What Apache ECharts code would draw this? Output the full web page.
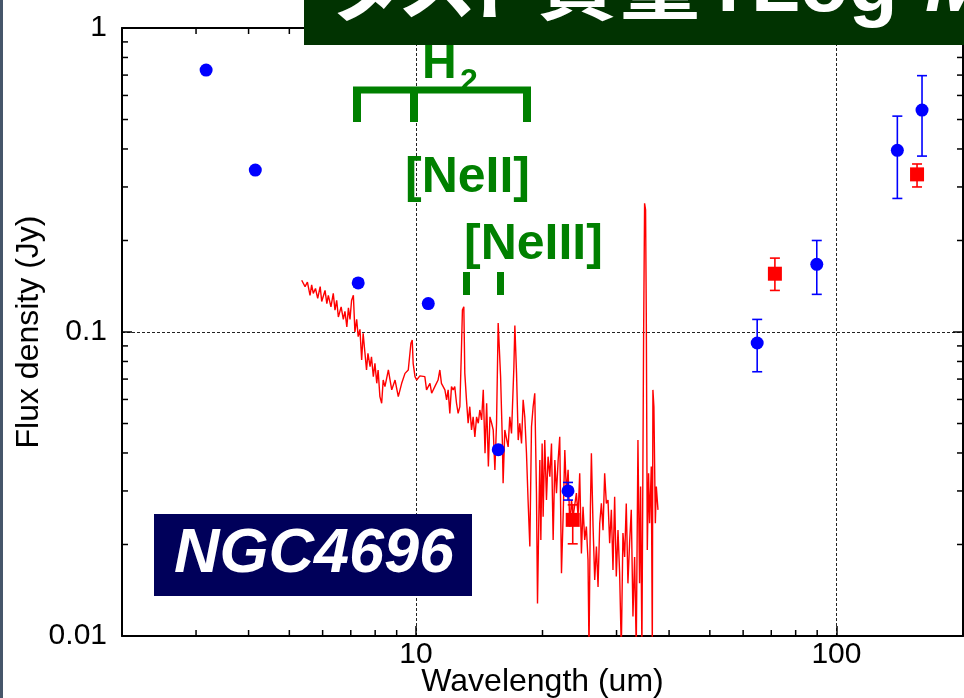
<!DOCTYPE html>
<html>
<head>
<meta charset="utf-8">
<script src="https://cdn.jsdelivr.net/npm/echarts@6/dist/echarts.min.js"></script>
<style>
  html, body { margin: 0; padding: 0; background: #ffffff; }
  #chart { width: 964px; height: 698px; }
</style>
</head>
<body>
<div id="chart"></div>
<script>
// Spitzer/IRS spectrum of NGC4696 (wavelength in um, flux density in Jy)
const specWave = [
  5.35, 5.45, 5.52, 5.60, 5.65, 5.70, 5.77, 5.84, 5.92, 5.97,
  6.08, 6.14, 6.19, 6.28, 6.36, 6.42, 6.48, 6.54, 6.64, 6.72,
  6.78, 6.85, 6.91, 6.97, 7.03, 7.10, 7.16, 7.23, 7.29, 7.36,
  7.43, 7.49, 7.56, 7.63, 7.69, 7.78, 7.84, 7.92, 7.99, 8.07,
  8.13, 8.21, 8.29, 8.36, 8.44, 8.60, 8.68, 8.76, 8.92, 9.08,
  9.25, 9.42, 9.59, 9.73, 9.80, 9.85, 9.95, 10.04, 10.22, 10.32,
  10.50, 10.60, 10.80, 10.90, 11.09, 11.29, 11.40, 11.50, 11.72, 11.83,
  11.93, 12.04, 12.15, 12.26, 12.37, 12.49, 12.60, 12.72, 12.83, 12.90,
  13.00, 13.07, 13.19, 13.31, 13.43, 13.56, 13.68, 13.81, 13.94, 14.07,
  14.19, 14.33, 14.46, 14.60, 14.73, 14.87, 15.00, 15.14, 15.27, 15.41,
  15.55, 15.69, 15.78, 15.90, 16.05, 16.12, 16.27, 16.57, 16.72, 16.88,
  17.10, 17.19, 17.35, 17.51, 17.66, 17.83, 17.99, 18.15, 18.32, 18.48,
  18.66, 18.83, 19.00, 19.17, 19.35, 19.46, 19.60, 19.71, 19.82, 19.96,
  20.07, 20.25, 20.44, 20.62, 20.82, 21.01, 21.20, 21.40, 21.59, 21.79,
  21.98, 22.19, 22.39, 22.60, 22.80, 23.01, 23.23, 23.44, 23.65, 24.08,
  24.30, 24.52, 24.75, 24.97, 25.20, 25.43, 25.66, 25.80, 26.00, 26.14,
  26.38, 26.62, 26.87, 27.11, 27.36, 27.61, 27.86, 28.11, 28.37, 28.63,
  28.89, 29.16, 29.42, 29.69, 29.96, 30.24, 30.51, 30.79, 31.07, 31.36,
  31.64, 31.93, 32.22, 32.52, 32.82, 33.12, 33.42, 33.73, 34.03, 34.22,
  34.47, 34.79, 34.98, 35.17, 35.31, 35.50, 35.75, 35.95, 36.29, 36.49,
  36.61, 36.81, 37.10, 37.30, 37.64
];
const specFlux = [
  0.148, 0.141, 0.146, 0.132, 0.143, 0.134, 0.139, 0.129, 0.141, 0.126,
  0.137, 0.124, 0.132, 0.121, 0.134, 0.118, 0.127, 0.112, 0.121, 0.110,
  0.117, 0.104, 0.120, 0.110, 0.127, 0.132, 0.100, 0.110, 0.0965, 0.102,
  0.0809, 0.099, 0.0861, 0.0750, 0.0851, 0.0769, 0.0829, 0.0713, 0.0789, 0.0678,
  0.0750, 0.0613, 0.0583, 0.0695, 0.0661, 0.0750, 0.0695, 0.0645, 0.0695, 0.0613,
  0.0678, 0.0731, 0.0750, 0.0918, 0.0941, 0.0789, 0.0713, 0.0695, 0.0717, 0.0722,
  0.0713, 0.0645, 0.0678, 0.0629, 0.0661, 0.0695, 0.0750, 0.0678, 0.0645, 0.0598,
  0.0645, 0.0540, 0.0661, 0.0645, 0.0661, 0.0583, 0.0540, 0.0568, 0.0873, 0.118,
  0.121, 0.0731, 0.0598, 0.0501, 0.0568, 0.0476, 0.0526, 0.0452, 0.0526, 0.0501,
  0.0554, 0.0514, 0.0645, 0.0399, 0.0583, 0.0361, 0.0526, 0.0501, 0.0476, 0.0352,
  0.0501, 0.107, 0.108, 0.0713, 0.0441, 0.0318, 0.0476, 0.0419, 0.0526, 0.0464,
  0.0769, 0.105, 0.0731, 0.0441, 0.0501, 0.0430, 0.0598, 0.0526, 0.0399, 0.0280,
  0.0197, 0.0488, 0.0568, 0.0629, 0.0295, 0.0128, 0.0241, 0.0379, 0.0207, 0.0430,
  0.0247, 0.0441, 0.0280, 0.0389, 0.0334, 0.0430, 0.0207, 0.0379, 0.0295, 0.0379,
  0.0452, 0.0161, 0.0247, 0.0409, 0.0295, 0.0352, 0.0229, 0.0280, 0.0247, 0.0295,
  0.0247, 0.0343, 0.0187, 0.0266, 0.0207, 0.0229, 0.0178, 0.009, 0.0266, 0.0399,
  0.0229, 0.0153, 0.0197, 0.0145, 0.0235, 0.0273, 0.0223, 0.0343, 0.0273, 0.0280,
  0.0202, 0.0260, 0.0165, 0.0287, 0.0157, 0.0223, 0.0161, 0.009, 0.0218, 0.0182,
  0.0273, 0.0149, 0.0202, 0.0260, 0.0116, 0.0182, 0.009, 0.0441, 0.0149, 0.0310,
  0.009, 0.0965, 0.265, 0.252, 0.112, 0.0192, 0.0343, 0.0235, 0.0361, 0.009,
  0.0645, 0.0568, 0.0235, 0.0310, 0.0260
];

// Broad-band photometry (blue circles) with error ranges
const photWave = [3.17, 4.15, 7.29, 10.7, 15.7, 23.0, 64.8, 89.8, 139.6, 159.8];
const photFlux = [0.727, 0.341, 0.145, 0.124, 0.041, 0.030, 0.092, 0.167, 0.396, 0.537];
const photLow  = [null, null, 0.141, 0.121, null, 0.028, 0.074, 0.133, 0.275, 0.379];
const photHigh = [null, null, 0.149, 0.127, null, 0.032, 0.110, 0.200, 0.513, 0.697];

// Second photometry set (red squares) with error ranges
const sqWave = [23.6, 71.4, 155.5];
const sqFlux = [0.0241, 0.1555, 0.330];
const sqLow  = [0.0201, 0.137, 0.300];
const sqHigh = [0.027, 0.175, 0.357];

// Axis ranges, labelled ticks and minor ticks
const xRange = [2, 200];
const yRange = [0.01, 1];
const xTickValues = [10, 100];
const xTickLabels = ['10', '100'];
const yTickValues = [0.01, 0.1, 1];
const yTickLabels = ['0.01', '0.1', '1'];
const xMinorTicks = [3, 4, 5, 6, 7, 8, 9, 20, 30, 40, 50, 60, 70, 80, 90];
const yMinorTicks = [0.02, 0.03, 0.04, 0.05, 0.06, 0.07, 0.08, 0.09,
                     0.2, 0.3, 0.4, 0.5, 0.6, 0.7, 0.8, 0.9];

const LATIN = '"Liberation Sans", Arial, sans-serif';
const CJK = '"Noto Sans CJK JP", sans-serif';
const GREEN = '#008000';

function labelFor(values, labels) {
  return function (v) {
    for (let i = 0; i < values.length; i++) {
      if (Math.abs(Math.log10(v) - Math.log10(values[i])) < 1e-6) return labels[i];
    }
    return '';
  };
}

function errorBars(color) {
  return function (params, api) {
    const x = api.value(0);
    const lo = api.coord([x, api.value(1)]);
    const hi = api.coord([x, api.value(2)]);
    const cap = 5;
    const st = { stroke: color, lineWidth: 1.6 };
    return {
      type: 'group',
      children: [
        { type: 'line', shape: { x1: lo[0], y1: lo[1], x2: hi[0], y2: hi[1] }, style: st },
        { type: 'line', shape: { x1: lo[0] - cap, y1: lo[1], x2: lo[0] + cap, y2: lo[1] }, style: st },
        { type: 'line', shape: { x1: hi[0] - cap, y1: hi[1], x2: hi[0] + cap, y2: hi[1] }, style: st }
      ]
    };
  };
}

function withErrors(w, lo, hi) {
  const out = [];
  for (let i = 0; i < w.length; i++) {
    if (lo[i] != null && hi[i] != null) out.push([w[i], lo[i], hi[i]]);
  }
  return out;
}

const tickStyle = { stroke: '#000', lineWidth: 1.5 };

function xMinorItem(params, api) {
  const v = api.value(0);
  const b = api.coord([v, yRange[0]]);
  const t = api.coord([v, yRange[1]]);
  return {
    type: 'group',
    children: [
      { type: 'line', shape: { x1: b[0], y1: b[1], x2: b[0], y2: b[1] - 6 }, style: tickStyle },
      { type: 'line', shape: { x1: t[0], y1: t[1], x2: t[0], y2: t[1] + 6 }, style: tickStyle }
    ]
  };
}

function yMinorItem(params, api) {
  const v = api.value(1);
  const l = api.coord([xRange[0], v]);
  const r = api.coord([xRange[1], v]);
  return {
    type: 'group',
    children: [
      { type: 'line', shape: { x1: l[0], y1: l[1], x2: l[0] + 6, y2: l[1] }, style: tickStyle },
      { type: 'line', shape: { x1: r[0], y1: r[1], x2: r[0] - 6, y2: r[1] }, style: tickStyle }
    ]
  };
}

function text(x, y, str, font, fill, align) {
  return {
    type: 'text', z: 100,
    style: { x: x, y: y, text: str, font: font, fill: fill, align: align || 'left', verticalAlign: 'middle' }
  };
}

const axisLineStyle = { color: '#000', width: 2 };
const gridDash = { color: '#222', width: 1, type: [3, 2] };

const chart = echarts.init(document.getElementById('chart'), null, { renderer: 'canvas' });

chart.setOption({
  animation: false,
  backgroundColor: '#ffffff',
  grid: { left: 122, right: 1, top: 28, bottom: 62, containLabel: false, outerBoundsMode: 'none' },
  xAxis: [
    {
      type: 'log', logBase: 10, min: xRange[0], max: xRange[1], position: 'bottom',
      name: 'Wavelength (um)', nameLocation: 'middle', nameGap: 30, nameMoveOverlap: false,
      nameTextStyle: { fontFamily: LATIN, fontSize: 32, color: '#000' },
      axisLine: { show: true, lineStyle: axisLineStyle },
      axisTick: { show: true, inside: true, length: 10, lineStyle: { color: '#000', width: 1.5 } },
      minorTick: { show: false },
      axisLabel: { show: true, margin: 4, fontFamily: LATIN, fontSize: 30, color: '#000',
                   showMinLabel: false, showMaxLabel: false,
                   formatter: labelFor(xTickValues, xTickLabels) },
      splitLine: { show: true, lineStyle: gridDash }
    },
    {
      type: 'log', logBase: 10, min: xRange[0], max: xRange[1], position: 'top',
      axisLine: { show: true, lineStyle: axisLineStyle },
      axisTick: { show: true, inside: true, length: 10, lineStyle: { color: '#000', width: 1.5 } },
      axisLabel: { show: false },
      splitLine: { show: false }
    }
  ],
  yAxis: [
    {
      type: 'log', logBase: 10, min: yRange[0], max: yRange[1], position: 'left',
      name: 'Flux density (Jy)', nameLocation: 'middle', nameGap: 77, nameMoveOverlap: false,
      nameTextStyle: { fontFamily: LATIN, fontSize: 32, color: '#000' },
      axisLine: { show: true, lineStyle: axisLineStyle },
      axisTick: { show: true, inside: true, length: 10, lineStyle: { color: '#000', width: 1.5 } },
      axisLabel: { show: true, margin: 15, fontFamily: LATIN, fontSize: 30, color: '#000',
                   formatter: labelFor(yTickValues, yTickLabels) },
      splitLine: { show: true, lineStyle: gridDash }
    },
    {
      type: 'log', logBase: 10, min: yRange[0], max: yRange[1], position: 'right',
      axisLine: { show: true, lineStyle: axisLineStyle },
      axisTick: { show: true, inside: true, length: 10, lineStyle: { color: '#000', width: 1.5 } },
      axisLabel: { show: false },
      splitLine: { show: false }
    }
  ],
  series: [
    {
      name: 'IRS spectrum', type: 'line', xAxisIndex: 0, yAxisIndex: 0,
      data: specWave.map((w, i) => [w, specFlux[i]]),
      showSymbol: false, symbol: 'none', clip: true, z: 2,
      lineStyle: { color: '#ff0000', width: 1.4 }
    },
    {
      name: 'photometry errors', type: 'custom', xAxisIndex: 0, yAxisIndex: 0, z: 3,
      data: withErrors(photWave, photLow, photHigh),
      encode: { x: 0, y: [1, 2] },
      renderItem: errorBars('#0000ff')
    },
    {
      name: 'square errors', type: 'custom', xAxisIndex: 0, yAxisIndex: 0, z: 3,
      data: withErrors(sqWave, sqLow, sqHigh),
      encode: { x: 0, y: [1, 2] },
      renderItem: errorBars('#ff0000')
    },
    {
      name: 'squares', type: 'scatter', xAxisIndex: 0, yAxisIndex: 0, z: 4,
      data: sqWave.map((w, i) => [w, sqFlux[i]]),
      symbol: 'rect', symbolSize: 14,
      itemStyle: { color: '#ff0000', opacity: 1 }
    },
    {
      name: 'photometry', type: 'scatter', xAxisIndex: 0, yAxisIndex: 0, z: 5,
      data: photWave.map((w, i) => [w, photFlux[i]]),
      symbol: 'circle', symbolSize: 13,
      itemStyle: { color: '#0000ff', opacity: 1 }
    },
    {
      name: 'x minor ticks', type: 'custom', xAxisIndex: 0, yAxisIndex: 0, z: 6, silent: true,
      data: xMinorTicks.map(v => [v, yRange[0]]),
      encode: { x: 0, y: 1 },
      renderItem: xMinorItem
    },
    {
      name: 'y minor ticks', type: 'custom', xAxisIndex: 0, yAxisIndex: 0, z: 6, silent: true,
      data: yMinorTicks.map(v => [xRange[0], v]),
      encode: { x: 0, y: 1 },
      renderItem: yMinorItem
    }
  ],
  graphic: [
    // slate edge on the left
    { type: 'rect', z: 100, shape: { x: 0, y: 0, width: 3, height: 698 }, style: { fill: '#46566a' } },

    // banner across the top
    { type: 'rect', z: 100, shape: { x: 304, y: 0, width: 660, height: 45 }, style: { fill: '#013301' } },
    text(327, -17, 'ダ', 'bold 80px ' + CJK, '#ffffff'),
    text(397, -17, 'ス', 'bold 80px ' + CJK, '#ffffff'),
    text(459, -17, 'ト', 'bold 80px ' + CJK, '#ffffff'),
    text(537, -17, '質', 'bold 80px ' + CJK, '#ffffff'),
    text(620, -17, '量', 'bold 80px ' + CJK, '#ffffff'),
    text(715, -11, ':', 'bold 80px ' + LATIN, '#ffffff'),
    text(751, -11, 'Log', 'bold 80px ' + LATIN, '#ffffff'),
    text(925, -11, 'M', 'italic bold 80px ' + LATIN, '#ffffff'),

    // H2 bracket
    text(422, 65, 'H', 'bold 48px ' + LATIN, GREEN),
    text(460, 82, '2', 'bold 32px ' + LATIN, GREEN),
    { type: 'line', z: 100, shape: { x1: 353, y1: 90, x2: 531, y2: 90 }, style: { stroke: GREEN, lineWidth: 7 } },
    { type: 'line', z: 100, shape: { x1: 357, y1: 87, x2: 357, y2: 122 }, style: { stroke: GREEN, lineWidth: 8 } },
    { type: 'line', z: 100, shape: { x1: 414, y1: 87, x2: 414, y2: 122 }, style: { stroke: GREEN, lineWidth: 8 } },
    { type: 'line', z: 100, shape: { x1: 527, y1: 87, x2: 527, y2: 122 }, style: { stroke: GREEN, lineWidth: 8 } },

    // fine-structure line labels
    text(405, 178, '[NeII]', 'bold 50px ' + LATIN, GREEN),
    text(464, 245, '[NeIII]', 'bold 50px ' + LATIN, GREEN),
    { type: 'rect', z: 100, shape: { x: 463, y: 272, width: 7, height: 23 }, style: { fill: GREEN } },
    { type: 'rect', z: 100, shape: { x: 497, y: 272, width: 7, height: 23 }, style: { fill: GREEN } },

    // object name box
    { type: 'rect', z: 100, shape: { x: 154, y: 514, width: 318, height: 82 }, style: { fill: '#00005a' } },
    text(314, 555, 'NGC4696', 'italic bold 63px ' + LATIN, '#ffffff', 'center')
  ]
});
</script>
</body>
</html>
